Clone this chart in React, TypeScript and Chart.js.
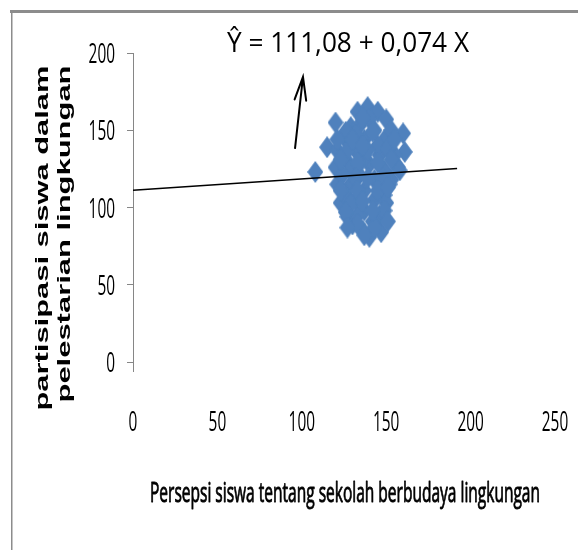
import React, { useEffect, useRef } from "react";
import { Chart, registerables } from "chart.js";

Chart.register(...registerables);

// ---- data ----
const X_TICKS = [0, 50, 100, 150, 200, 250];
const Y_TICKS = [0, 50, 100, 150, 200];

const PERSEPSI = [
  108, 115, 120, 121, 129, 133, 139, 145, 150, 160, 161, 157, 153, 149, 150, 146, 147, 140, 136,
  130, 127, 123, 121, 120, 126, 132, 137, 143, 149, 155, 126, 134, 140, 146, 140, 134, 129, 126,
  132, 137, 143, 149, 137, 143, 133, 142, 129, 136, 152, 124, 132, 145, 139, 127, 153,
  136, 126, 142, 151, 130, 136, 123, 133, 145, 153, 158, 132, 139, 148, 123, 133, 145, 129, 136,
  149, 126, 133, 143, 137, 151, 155, 121, 142, 151, 127,
];
const PARTISIPASI = [
  123, 139, 155, 137, 152, 162, 165, 162, 157, 148, 136, 126, 118, 108, 103, 95, 84, 81, 85, 89,
  94, 103, 115, 126, 131, 137, 144, 150, 144, 134, 144, 153, 157, 134, 128, 121, 115, 108, 105,
  111, 118, 124, 98, 105, 95, 91, 124, 131, 115, 121, 147, 140, 137, 137, 150,
  158, 149, 149, 138, 144, 140, 131, 129, 129, 131, 124, 119, 119, 119, 111, 111, 111, 102, 104,
  98, 97, 89, 87, 82, 91, 144, 144, 98, 113, 87,
];

const REG_X = [0, 192];
const REG_Y = [111.1, 125.3];

const ARROW_X = [96, 100.7];
const ARROW_Y = [138.5, 184.5];

const EQUATION = "Ŷ = 111,08 + 0,074 X";
const X_TITLE = "Persepsi siswa tentang sekolah berbudaya lingkungan";
const Y_TITLE = ["partisipasi siswa dalam", "pelestarian lingkungan"];

const POINT_COLOR = "#4F81BD";
const AXIS_COLOR = "#868686";
const FRAME_COLOR = "#8c8c8c";

function makeDiamond(w: number, h: number, color: string) {
  const c = document.createElement("canvas");
  c.width = w;
  c.height = h;
  const g = c.getContext("2d")!;
  g.fillStyle = color;
  g.beginPath();
  g.moveTo(w / 2, 0);
  g.lineTo(w, h / 2);
  g.lineTo(w / 2, h);
  g.lineTo(0, h / 2);
  g.closePath();
  g.fill();
  return c;
}

function fitText(
  ctx: CanvasRenderingContext2D,
  text: string,
  x: number,
  y: number,
  font: string,
  width: number,
  align: CanvasTextAlign,
  strokeW = 0
) {
  ctx.save();
  ctx.font = font;
  ctx.textAlign = align;
  ctx.textBaseline = "alphabetic";
  const m = ctx.measureText(text).width;
  ctx.translate(x, y);
  ctx.scale(width / m, 1);
  ctx.fillText(text, 0, 0);
  if (strokeW > 0) {
    ctx.strokeStyle = ctx.fillStyle as string;
    ctx.lineWidth = strokeW;
    ctx.lineJoin = "round";
    ctx.strokeText(text, 0, 0);
  }
  ctx.restore();
}

function scaledText(
  ctx: CanvasRenderingContext2D,
  text: string,
  x: number,
  y: number,
  font: string,
  sx: number,
  align: CanvasTextAlign
) {
  ctx.save();
  ctx.font = font;
  ctx.textAlign = align;
  ctx.textBaseline = "alphabetic";
  ctx.translate(x, y);
  ctx.scale(sx, 1);
  ctx.fillText(text, 0, 0);
  ctx.restore();
}

const decorPlugin = {
  id: "decor",
  beforeDraw(chart: any) {
    const ctx: CanvasRenderingContext2D = chart.ctx;
    ctx.save();
    ctx.fillStyle = "#ffffff";
    ctx.fillRect(0, 0, chart.width, chart.height);
    ctx.strokeStyle = FRAME_COLOR;
    ctx.lineWidth = 3;
    ctx.beginPath();
    ctx.moveTo(10, 11.5);
    ctx.lineTo(chart.width, 11.5);
    ctx.stroke();
    ctx.lineWidth = 1.5;
    ctx.beginPath();
    ctx.moveTo(11.75, 10);
    ctx.lineTo(11.75, chart.height);
    ctx.stroke();
    ctx.restore();
  },
  afterDraw(chart: any) {
    const ctx: CanvasRenderingContext2D = chart.ctx;
    const xs = chart.scales.x;
    const ys = chart.scales.y;
    const area = chart.chartArea;
    ctx.save();
    // y axis extension below zero
    ctx.strokeStyle = AXIS_COLOR;
    ctx.lineWidth = 1;
    ctx.beginPath();
    ctx.moveTo(Math.round(area.left) + 0.5, area.bottom);
    ctx.lineTo(Math.round(area.left) + 0.5, area.bottom + 10);
    ctx.stroke();

    ctx.fillStyle = "#000000";
    const tickFont = '28px "Open Sans"';
    // y tick labels
    ys.ticks.forEach((t: any) => {
      const py = ys.getPixelForValue(t.value);
      scaledText(ctx, String(t.value), area.left - 18, py + 10, tickFont, 0.55, "right");
    });
    // x tick labels
    xs.ticks.forEach((t: any) => {
      const px = xs.getPixelForValue(t.value);
      scaledText(ctx, String(t.value), px, 431, tickFont, 0.55, "center");
    });

    // equation
    fitText(ctx, EQUATION, 227, 52, '28px "Open Sans"', 242, "left");
    // x title
    fitText(ctx, X_TITLE, 150, 502, '27px "Open Sans"', 390, "left", 0.9);
    // y title (two rotated lines)
    const yFont = 'bold 19px "Liberation Sans"';
    const lines = [
      { t: Y_TITLE[0], x: 48, y: 238, len: 345 },
      { t: Y_TITLE[1], x: 70, y: 234, len: 337 },
    ];
    lines.forEach((l) => {
      ctx.save();
      ctx.font = yFont;
      ctx.textAlign = "center";
      ctx.textBaseline = "alphabetic";
      const m = ctx.measureText(l.t).width;
      ctx.translate(l.x, l.y);
      ctx.rotate(-Math.PI / 2);
      ctx.scale(l.len / m, 1);
      ctx.fillText(l.t, 0, 0);
      ctx.restore();
    });

    // arrow
    const x0 = xs.getPixelForValue(ARROW_X[0]);
    const y0 = ys.getPixelForValue(ARROW_Y[0]);
    const x1 = xs.getPixelForValue(ARROW_X[1]);
    const y1 = ys.getPixelForValue(ARROW_Y[1]);
    ctx.strokeStyle = "#000000";
    ctx.lineWidth = 2;
    ctx.lineCap = "round";
    ctx.beginPath();
    ctx.moveTo(x0, y0);
    ctx.lineTo(x1, y1);
    const ang = Math.atan2(y0 - y1, x0 - x1);
    const head = 24;
    const spread = (14 * Math.PI) / 180;
    ctx.moveTo(x1 + head * Math.cos(ang - spread), y1 + head * Math.sin(ang - spread));
    ctx.lineTo(x1, y1);
    ctx.lineTo(x1 + head * Math.cos(ang + spread), y1 + head * Math.sin(ang + spread));
    ctx.stroke();
    ctx.restore();
  },
};

export default function App() {
  const ref = useRef<HTMLCanvasElement | null>(null);

  useEffect(() => {
    if (!ref.current) return;
    const diamond = makeDiamond(16, 22, POINT_COLOR);
    const points = PERSEPSI.map((x, i) => ({ x, y: PARTISIPASI[i] }));
    const reg = REG_X.map((x, i) => ({ x, y: REG_Y[i] }));
    const chart = new Chart(ref.current, {
      type: "scatter",
      data: {
        datasets: [
          {
            label: "regresi",
            data: reg,
            showLine: true,
            borderColor: "#000000",
            borderWidth: 1.5,
            pointRadius: 0,
            order: 0,
          } as any,
          {
            label: "data",
            data: points,
            pointStyle: diamond as any,
            pointRadius: 8,
            backgroundColor: POINT_COLOR,
            borderWidth: 0,
            order: 1,
          } as any,
        ],
      },
      options: {
        responsive: false,
        animation: false,
        devicePixelRatio: 1,
        layout: { padding: { left: 0, right: 23, top: 53, bottom: 178 } },
        plugins: {
          legend: { display: false },
          tooltip: { enabled: false },
        },
        scales: {
          x: {
            type: "linear",
            min: X_TICKS[0],
            max: X_TICKS[X_TICKS.length - 1],
            ticks: { display: false, stepSize: 50 },
            grid: { display: false },
            border: { display: false },
            afterFit: (s: any) => {
              s.height = 10;
            },
          },
          y: {
            type: "linear",
            min: Y_TICKS[0],
            max: Y_TICKS[Y_TICKS.length - 1],
            ticks: { display: false, stepSize: 50 },
            grid: {
              display: true,
              drawOnChartArea: false,
              drawTicks: true,
              tickLength: 6,
              color: AXIS_COLOR,
            },
            border: { display: true, color: AXIS_COLOR, width: 1 },
            afterFit: (s: any) => {
              s.width = 133;
            },
          },
        },
      } as any,
      plugins: [decorPlugin],
    });
    return () => chart.destroy();
  }, []);

  return (
    <div style={{ position: "absolute", left: 0, top: 0, width: 578, height: 550, background: "#fff" }}>
      <canvas ref={ref} width={578} height={550} style={{ display: "block" }} />
    </div>
  );
}
